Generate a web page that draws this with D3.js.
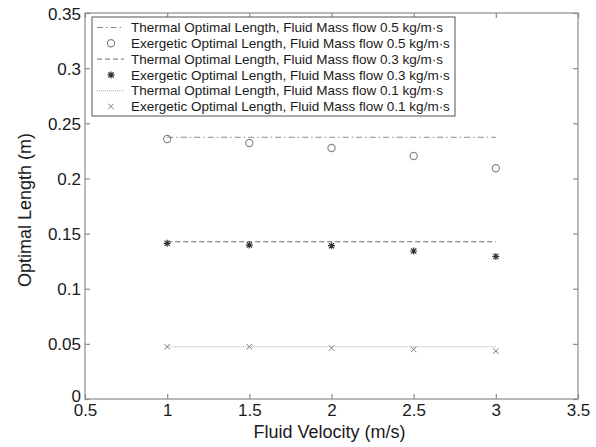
<!DOCTYPE html>
<html><head><meta charset="utf-8">
<script src="https://cdn.jsdelivr.net/npm/d3@7"></script>
<style>body{margin:0;background:#fff}svg{display:block}text{font-family:"Liberation Sans",Arial,sans-serif}</style>
</head><body><svg id="c" width="596" height="447"></svg>
<script>
const velocities = [1, 1.5, 2, 2.5, 3];
const thermal05 = [0.2373, 0.2373, 0.2373, 0.2373, 0.2373];
const exergetic05 = [0.2357, 0.2321, 0.2276, 0.2203, 0.2092];
const thermal03 = [0.1426, 0.1426, 0.1426, 0.1426, 0.1426];
const exergetic03 = [0.1412, 0.1396, 0.1390, 0.1342, 0.1292];
const thermal01 = [0.0474, 0.0474, 0.0474, 0.0474, 0.0474];
const exergetic01 = [0.0474, 0.0474, 0.0462, 0.0450, 0.0435];
const xTicks = [0.5, 1, 1.5, 2, 2.5, 3, 3.5];
const yTicks = [0, 0.05, 0.1, 0.15, 0.2, 0.25, 0.3, 0.35];
const legendLabels = [
  "Thermal Optimal Length, Fluid Mass flow 0.5 kg/m·s",
  "Exergetic Optimal Length, Fluid Mass flow 0.5 kg/m·s",
  "Thermal Optimal Length, Fluid Mass flow 0.3 kg/m·s",
  "Exergetic Optimal Length, Fluid Mass flow 0.3 kg/m·s",
  "Thermal Optimal Length, Fluid Mass flow 0.1 kg/m·s",
  "Exergetic Optimal Length, Fluid Mass flow 0.1 kg/m·s"
];

const svg = d3.select("#c");
const L = 85, R = 578, T = 13, B = 399;
const x = d3.scaleLinear().domain([0.5, 3.5]).range([L, R]);
const y = d3.scaleLinear().domain([0, 0.35]).range([B, T]);
const axisCol = "#8c8c8c";

// frame
svg.append("rect").attr("x", L).attr("y", T).attr("width", R - L).attr("height", B - T)
  .attr("fill", "none").attr("stroke", axisCol).attr("stroke-width", 1.2);

// axes
const gx = svg.append("g").attr("transform", `translate(0,${B})`)
  .call(d3.axisBottom(x).tickValues(xTicks).tickSize(-5).tickPadding(9).tickFormat(d3.format("")));
const gxt = svg.append("g").attr("transform", `translate(0,${T})`)
  .call(d3.axisTop(x).tickValues(xTicks).tickSize(-5).tickFormat(""));
const gy = svg.append("g").attr("transform", `translate(${L},0)`)
  .call(d3.axisLeft(y).tickValues(yTicks).tickSize(-5).tickPadding(4).tickFormat(d3.format("")));
const gyr = svg.append("g").attr("transform", `translate(${R},0)`)
  .call(d3.axisRight(y).tickValues(yTicks).tickSize(-5).tickFormat(""));
[gx, gxt, gy, gyr].forEach(g => {
  g.select(".domain").remove();
  g.selectAll(".tick line").attr("stroke", axisCol).attr("stroke-width", 1.2);
  g.selectAll("text").attr("fill", "#1a1a1a").attr("font-size", 17).attr("font-family", '"Liberation Sans",Arial,sans-serif');
});
gx.selectAll("text").attr("dy", "0.71em").attr("y", 5);
gy.selectAll("text").attr("dy", "0.36em");
gy.selectAll(".tick").filter(d => d === 0).select("text").attr("y", -4);

// axis labels
svg.append("text").attr("x", (L + R) / 2 - 2).attr("y", 438).attr("text-anchor", "middle")
  .attr("font-size", 18).attr("fill", "#1a1a1a").text("Fluid Velocity (m/s)");
svg.append("text").attr("transform", `translate(31,210) rotate(-90)`).attr("text-anchor", "middle")
  .attr("font-size", 18).attr("fill", "#1a1a1a").text("Optimal Length (m)");

const line = d3.line().x((d, i) => x(velocities[i])).y(d => y(d));
const styles = [
  {dash: "6,3,1.5,3", col: "#8a8a8a", w: 1},
  {dash: "5,3", col: "#6e6e6e", w: 1},
  {dash: "1,1", col: "#b0b0b0", w: 1}
];
[thermal05, thermal03, thermal01].forEach((s, k) => {
  svg.append("path").datum(s).attr("d", line).attr("fill", "none")
    .attr("stroke", styles[k].col).attr("stroke-width", styles[k].w).attr("stroke-dasharray", styles[k].dash);
});

function circleM(g, cx, cy) {
  g.append("circle").attr("cx", cx).attr("cy", cy).attr("r", 3.6).attr("fill", "none")
    .attr("stroke", "#8a8a8a").attr("stroke-width", 1.2);
}
function starM(g, cx, cy) {
  const r = 3.5, p = [];
  p.push(`M${cx - r},${cy}L${cx + r},${cy}`, `M${cx},${cy - r}L${cx},${cy + r}`);
  const q = r * 0.75;
  p.push(`M${cx - q},${cy - q}L${cx + q},${cy + q}`, `M${cx - q},${cy + q}L${cx + q},${cy - q}`);
  g.append("path").attr("d", p.join("")).attr("stroke", "#333").attr("stroke-width", 1.2).attr("fill", "none");
}
function crossM(g, cx, cy) {
  const r = 2.8;
  g.append("path").attr("d", `M${cx - r},${cy - r}L${cx + r},${cy + r}M${cx - r},${cy + r}L${cx + r},${cy - r}`)
    .attr("stroke", "#7a7a7a").attr("stroke-width", 1).attr("fill", "none");
}
const mg = svg.append("g");
exergetic05.forEach((v, i) => circleM(mg, x(velocities[i]), y(v)));
exergetic03.forEach((v, i) => starM(mg, x(velocities[i]), y(v)));
exergetic01.forEach((v, i) => crossM(mg, x(velocities[i]), y(v)));

// legend
const lg = svg.append("g");
const lx = 92, ly = 17, lw = 363, lh = 99;
lg.append("rect").attr("x", lx).attr("y", ly).attr("width", lw).attr("height", lh)
  .attr("fill", "#fff").attr("stroke", "#555").attr("stroke-width", 1);
const rowY = i => 27.5 + i * 15.8;
legendLabels.forEach((t, i) => {
  const cy = rowY(i);
  if (i % 2 === 0) {
    const st = styles[i / 2];
    lg.append("line").attr("x1", 97).attr("x2", 124).attr("y1", cy).attr("y2", cy)
      .attr("stroke", st.col).attr("stroke-width", st.w).attr("stroke-dasharray", st.dash);
  } else {
    [circleM, starM, crossM][(i - 1) / 2](lg, 111, cy);
  }
  lg.append("text").attr("x", 131).attr("y", cy).attr("dy", "0.35em").attr("font-size", 13.5)
    .attr("fill", "#1a1a1a").text(t);
});
</script></body></html>
